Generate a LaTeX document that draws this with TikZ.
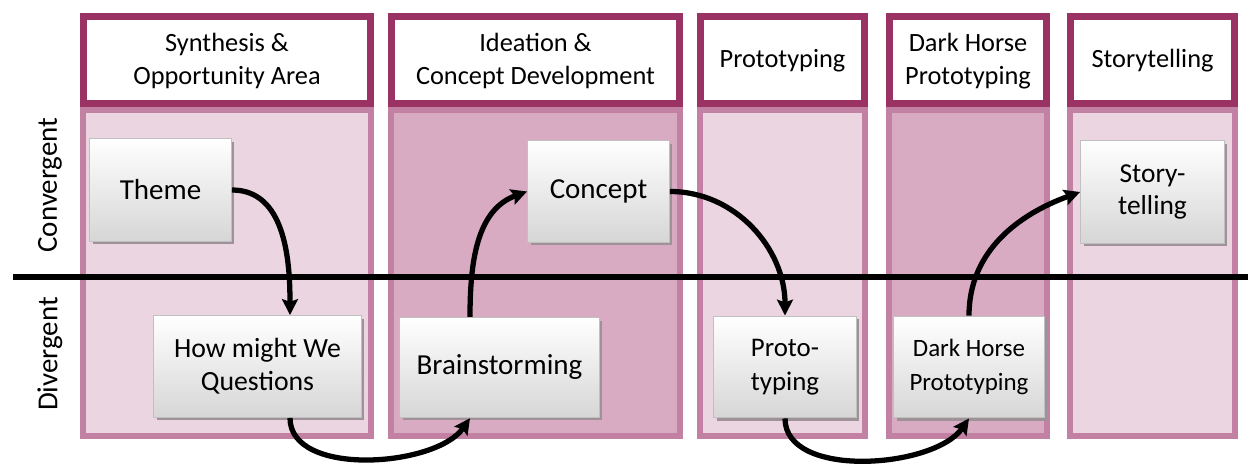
\documentclass[tikz,border=0pt]{standalone}
\usepackage{fontspec}
\setmainfont{Carlito}
\usetikzlibrary{arrows.meta, shadows}

\definecolor{headline}{RGB}{155,50,100}
\definecolor{laneline}{RGB}{194,128,163}
\definecolor{lanelight}{RGB}{234,213,224}
\definecolor{lanedark}{RGB}{216,171,194}
\definecolor{cardline}{RGB}{192,192,192}
\definecolor{cardgray}{RGB}{214,214,214}
\definecolor{cardshadow}{RGB}{158,146,152}

\begin{document}
\begin{tikzpicture}[x=0.02cm, y=0.02cm,
    head/.style={draw=headline, line width=4pt, fill=white},
    lane/.style={draw=laneline, line width=3.4pt},
    title/.style={align=center, font=\fontsize{15}{18.7}\selectfont},
    card/.style={draw=cardline, line width=0.8pt, top color=white, bottom color=cardgray, align=center, inner sep=2pt,
        drop shadow={shadow xshift=0.06cm, shadow yshift=-0.06cm, fill=cardshadow, opacity=1}},
    flow/.style={line width=3pt, -{Stealth[length=9pt, width=9pt, inset=1.5pt]}}]

    \useasboundingbox (0,0) rectangle (1248,466);

    % phase columns
    \foreach \xa/\xb/\tint/\name/\txt in {80/374/lanelight/synth/{Synthesis \&\\Opportunity Area},
        388/683/lanedark/idea/{Ideation \&\\Concept Development}, 697/868/lanelight/proto/Prototyping,
        886/1050/lanedark/dark/{Dark Horse\\Prototyping}, 1067/1238/lanelight/story/Storytelling}
    {
        \draw[lane, fill=\tint] (\xa+3,356) rectangle (\xb-3,30);
        \draw[head] (\xa+3.5,449.5) rectangle (\xb-3.5,362.5);
        \node[title] (h-\name) at ({(\xa+\xb)/2},405) {\txt};
    }

    \draw[line width=3pt] (13,189) -- (1248,189);
    \node[rotate=90, font=\fontsize{16.5}{20}\selectfont] (conv) at (50,281) {Convergent};
    \node[rotate=90, font=\fontsize{16.5}{20}\selectfont] (div) at (50,112) {Divergent};

    % steps
    \node[card, minimum width=2.83cm, minimum height=2.05cm, font=\fontsize{16.5}{20}\selectfont] (theme) at (160.5,276) {Theme};
    \node[card, minimum width=4.15cm, minimum height=2.03cm, font=\fontsize{15.8}{18.7}\selectfont] (hmw) at (257.5,99.5) {How might We\\Questions};
    \node[card, minimum width=2.83cm, minimum height=2.03cm, font=\fontsize{16.5}{20}\selectfont] (concept) at (598.5,274.5) {Concept};
    \node[card, minimum width=3.99cm, minimum height=2.0cm, font=\fontsize{16.5}{20}\selectfont] (brainst) at (499.5,98.5) {Brainstorming};
    \node[card, minimum width=2.85cm, minimum height=2.03cm, font=\fontsize{15.3}{19}\selectfont] (protocard) at (785,99) {Proto-\\typing};
    \node[card, minimum width=3.01cm, minimum height=2.03cm, font=\fontsize{14.2}{19}\selectfont] (darkcard) at (969,99) {Dark Horse\\Prototyping};
    \node[card, minimum width=2.87cm, minimum height=2.05cm, font=\fontsize{15.6}{18}\selectfont] (storycard) at (1152.5,274) {Story-\\telling};

    \draw[flow] (theme.east) to[out=0, in=90] ([xshift=0.65cm]hmw.north);
    \draw[flow] ([xshift=0.65cm]hmw.south) to[out=-90, in=-125, looseness=0.85] ([xshift=-0.59cm]brainst.south);
    \draw[flow] ([xshift=-0.59cm]brainst.north) to[out=90, in=200] (concept.west);
    \draw[flow] (concept.east) to[out=0, in=90] (protocard.north);
    \draw[flow] (protocard.south) to[out=-90, in=-125, looseness=0.85] (darkcard.south);
    \draw[flow] (darkcard.north) to[out=90, in=200] (storycard.west);
\end{tikzpicture}
\end{document}
